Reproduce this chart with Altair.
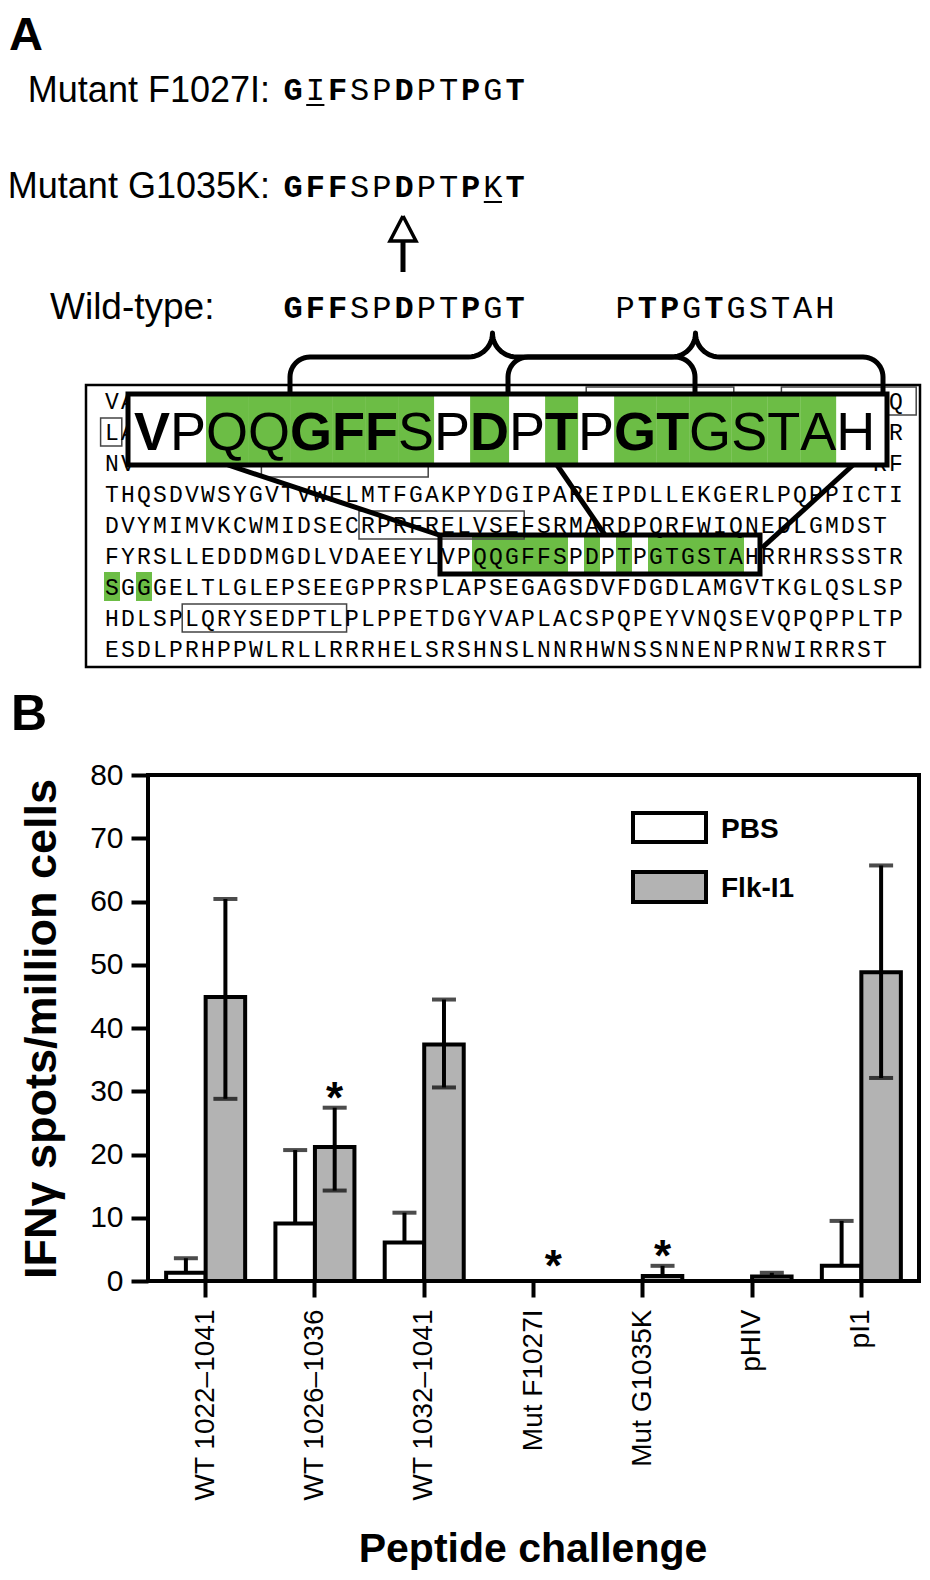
import math
import altair as alt
import pandas as pd

GREEN = "#6cbd45"
GRAY = "#b3b3b3"
SANS = "Liberation Sans"
MONO = "Liberation Mono"

# ---------------- Panel A data ----------------
mut1_label = "Mutant F1027I:"
mut1_seq = "GIFSPDPTPGT"
mut1_bold = "10100100101"
mut1_under = [1]
mut2_label = "Mutant G1035K:"
mut2_seq = "GFFSPDPTPKT"
mut2_bold = "11100100101"
mut2_under = [9]
wt_label = "Wild-type:"
wt_seq_a = "GFFSPDPTPGT"
wt_bold_a = "11100100101"
wt_seq_b = "PTPGTGSTAH"
wt_bold_b = "0110100000"

seq_rows = [
    "VAIKVLRENTSPKANKEILDEAYVMAGVGSPYVSRLLGICLTSTVQLVTQ",
    "LAPYGCLLDHVREHRGRLGSQDLLNWCVQIAKGMSYLEDVRLVHRDLAAR",
    "NVLVKSPNHVKITDFGLARLLDIDETEYHADGGKVPIKWMALESILRRRF",
    "THQSDVWSYGVTVWELMTFGAKPYDGIPAREIPDLLEKGERLPQPPICTI",
    "DVYMIMVKCWMIDSECRPRFRELVSEFSRMARDPQRFWIQNEDLGMDST",
    "FYRSLLEDDDMGDLVDAEEYLVPQQGFFSPDPTPGTGSTAHRRHRSSSTR",
    "SGGGELTLGLEPSEEGPPRSPLAPSEGAGSDVFDGDLAMGVTKGLQSLSP",
    "HDLSPLQRYSEDPTLPLPPETDGYVAPLACSPQPEYVNQSEVQPQPPLTP",
    "ESDLPRHPPWLRLLRRRHELSRSHNSLNNRHWNSSNNENPRNWIRRRST",
]
# rows whose middle lies under the enlarged box: only these cells show
covered_rows = [0, 1, 2]
visible_cells = [0, 1, 48, 49]
# (row, left cell, right cell) of the thin boxed motifs
thin_boxes = [(0, 30.2, 39.3), (0, 42.4, 50.7), (1, -0.15, 1.05), (2, 9.9, 20.2),
              (4, 16.0, 26.2), (7, 4.95, 15.1)]
hl_row, hl_start = 5, 21
zoom_seq = "VPQQGFFSPDPTPGTGSTAH"
zoom_bold = "10001110010101100000"
zoom_green = "00111111010101111110"
extra_green = [(6, 0), (6, 2)]

# ---------------- Panel B data ----------------
categories = ["WT 1022–1041", "WT 1026–1036", "WT 1032–1041", "Mut F1027I",
              "Mut G1035K", "pHIV", "pI1"]
groups = ["PBS", "Flk-I1"]
pbs_mean = [1.3, 9.1, 6.1, 0.0, 0.0, 0.0, 2.4]
pbs_err_hi = [3.6, 20.7, 10.8, None, None, None, 9.5]
flk_mean = [44.9, 21.2, 37.4, 0.0, 0.8, 0.7, 48.8]
flk_err_lo = [28.8, 14.3, 30.6, None, None, None, 32.1]
flk_err_hi = [60.4, 27.4, 44.5, None, 2.4, 1.3, 65.7]
star_cats = ["WT 1026–1036", "Mut F1027I", "Mut G1035K"]
star_vals = [30.5, 4.0, 5.6]
y_ticks = [0, 10, 20, 30, 40, 50, 60, 70, 80]

# ---------------- layout (page pixels) ----------------
W, H = 914, 1564
SEQ_X0, SEQ_DX = 104, 16
ROW_Y0, ROW_DY = 401, 31
UP_X0, UP_DX = 282, 22.2
ZOOM_X0, ZOOM_FS = 134, 54
ARIAL_W = {"V": .667, "P": .667, "Q": .778, "G": .778, "F": .611, "S": .667,
           "D": .722, "T": .611, "A": .667, "H": .722}


def sx():
    return alt.Scale(domain=[8, 8 + W], range=[0, W], nice=False, zero=False)


def sy():
    return alt.Scale(domain=[8, 8 + H], range=[0, H], nice=False, zero=False)


def ex(f="x"):
    return alt.X(f + ":Q", scale=sx(), axis=None)


def ey(f="y"):
    return alt.Y(f + ":Q", scale=sy(), axis=None)


def rects(df, **kw):
    return alt.Chart(pd.DataFrame(df)).mark_rect(**kw).encode(
        x=ex("x"), x2=alt.X2("x2"), y=ey("y"), y2=alt.Y2("y2"))


def rules(df, **kw):
    return alt.Chart(pd.DataFrame(df)).mark_rule(**kw).encode(
        x=ex("x"), x2=alt.X2("x2"), y=ey("y"), y2=alt.Y2("y2"))


def texts(df, **kw):
    kw.setdefault("baseline", "alphabetic")
    kw.setdefault("color", "black")
    return alt.Chart(pd.DataFrame(df)).mark_text(**kw).encode(
        x=ex("x"), y=ey("y"), text="t:N")


def paths(df, **kw):
    return alt.Chart(pd.DataFrame(df)).mark_line(**kw).encode(
        x=ex("x"), y=ey("y"), detail="id:N", order="k:Q")


def cell_x(c):
    return SEQ_X0 + c * SEQ_DX


def row_c(r):
    return ROW_Y0 + r * ROW_DY


# small sequence characters
small = [{"x": cell_x(c) + SEQ_DX / 2, "y": row_c(r) + 7.5, "t": ch}
         for r, row in enumerate(seq_rows) for c, ch in enumerate(row)
         if r not in covered_rows or c in visible_cells]

# upper sequences
upper = []
for seq, bold, x0, base in [(mut1_seq, mut1_bold, UP_X0, 100), (mut2_seq, mut2_bold, UP_X0, 197),
                            (wt_seq_a, wt_bold_a, UP_X0, 318), (wt_seq_b, wt_bold_b, 614, 318)]:
    for i, (ch, b) in enumerate(zip(seq, bold)):
        upper.append({"x": x0 + (i + 0.5) * UP_DX, "y": base, "t": ch, "b": b})
upper_n = [d for d in upper if d["b"] == "0"]
upper_b = [d for d in upper if d["b"] == "1"]

underl = []
for idxs, base in [(mut1_under, 100), (mut2_under, 197)]:
    for i in idxs:
        underl.append({"x": UP_X0 + i * UP_DX + 2, "x2": UP_X0 + (i + 1) * UP_DX - 2,
                       "y": base + 5, "y2": base + 5})

# highlights
greens = []
for i, g in enumerate(zoom_green):
    if g == "1":
        greens.append({"x": cell_x(hl_start + i), "x2": cell_x(hl_start + i + 1),
                       "y": row_c(hl_row) - 19, "y2": row_c(hl_row) + 16})
for r, c in extra_green:
    greens.append({"x": cell_x(c), "x2": cell_x(c + 1), "y": row_c(r) - 15, "y2": row_c(r) + 14})

thin = [{"x": cell_x(a) - 1, "x2": cell_x(b) + 1, "y": row_c(r) - 14, "y2": row_c(r) + 14}
        for r, a, b in thin_boxes]
thick_small = [{"x": cell_x(hl_start), "x2": cell_x(hl_start + len(zoom_seq)),
                "y": row_c(hl_row) - 21, "y2": row_c(hl_row) + 18}]

# zoomed box letters
zx = []
cur = ZOOM_X0
for ch in zoom_seq:
    zx.append(cur)
    cur += ARIAL_W[ch] * ZOOM_FS
big_n = [{"x": zx[i], "y": 450, "t": ch} for i, ch in enumerate(zoom_seq) if zoom_bold[i] == "0"]
big_b = [{"x": zx[i], "y": 450, "t": ch} for i, ch in enumerate(zoom_seq) if zoom_bold[i] == "1"]
big_g = [{"x": zx[i], "x2": zx[i] + ARIAL_W[ch] * ZOOM_FS, "y": 396, "y2": 463}
         for i, ch in enumerate(zoom_seq) if zoom_green[i] == "1"]
big_box = [{"x": 128, "x2": 887, "y": 394, "y2": 465}]

connectors = [{"x": 228, "y": 465, "x2": 442, "y2": 536},
              {"x": 557, "y": 465, "x2": 605, "y2": 535},
              {"x": 853, "y": 465, "x2": 762, "y2": 548}]


def brace(x0, x1, yb, yh, yt, r=20, n=12):
    R = yh - yt
    xp = (x0 + x1) / 2
    pts = [(x0, yb), (x0, yh + r)]
    for i in range(1, n + 1):
        th = math.pi + (math.pi / 2) * i / n
        pts.append((x0 + r + r * math.cos(th), yh + r + r * math.sin(th)))
    pts.append((xp - R, yh))
    for i in range(1, n + 1):
        th = math.pi / 2 - (math.pi / 2) * i / n
        pts.append((xp - R + R * math.cos(th), yt + R * math.sin(th)))
    right = [(2 * xp - x, y) for (x, y) in reversed(pts[:-1])]
    return pts + right


br = []
for bid, (a, b) in enumerate([(290, 695), (508, 883)]):
    for k, (x, y) in enumerate(brace(a, b, 395, 357, 333)):
        br.append({"id": bid, "k": k, "x": x, "y": y})

arrow_shaft = [{"x": 403, "x2": 403, "y": 241, "y2": 272}]
arrow_head = [{"id": 0, "k": k, "x": x, "y": y}
              for k, (x, y) in enumerate([(403, 216), (416, 241), (390, 241), (403, 216)])]

layerA = alt.layer(
    rects([{"x": 86, "x2": 920, "y": 385, "y2": 667}], fillOpacity=0, stroke="black", strokeWidth=2.5),
    rects(greens, color=GREEN),
    rects(thin, fillOpacity=0, stroke="#444444", strokeWidth=1.5),
    texts(small, font=MONO, fontSize=23, align="center"),
    rects(thick_small, fillOpacity=0, stroke="black", strokeWidth=5),
    rules(connectors, color="black", strokeWidth=5),
    paths(br, color="black", strokeWidth=5, strokeJoin="round"),
    rects(big_box, color="white"),
    rects(big_g, color=GREEN),
    texts(big_n, font=SANS, fontSize=ZOOM_FS, align="left"),
    texts(big_b, font=SANS, fontSize=ZOOM_FS, fontWeight="bold", align="left"),
    rects(big_box, fillOpacity=0, stroke="black", strokeWidth=5),
    texts([{"x": 9, "y": 50, "t": "A"}], font=SANS, fontSize=47, fontWeight="bold", align="left"),
    texts([{"x": 270, "y": 102, "t": mut1_label}, {"x": 270, "y": 198, "t": mut2_label}],
          font=SANS, fontSize=36, align="right"),
    texts([{"x": 50, "y": 319, "t": wt_label}], font=SANS, fontSize=37, align="left"),
    texts(upper_n, font=MONO, fontSize=32, align="center"),
    texts(upper_b, font=MONO, fontSize=32, fontWeight="bold", align="center"),
    rules(underl, color="black", strokeWidth=2),
    rules(arrow_shaft, color="black", strokeWidth=5),
    paths(arrow_head, color="black", strokeWidth=3.5, strokeJoin="miter"),
)

# ---------------- Panel B ----------------
bars_rows, err_rows, cap_rows = [], [], []
for i, c in enumerate(categories):
    bars_rows.append({"cat": c, "grp": "PBS", "v": pbs_mean[i]})
    bars_rows.append({"cat": c, "grp": "Flk-I1", "v": flk_mean[i]})
    if pbs_err_hi[i] is not None:
        err_rows.append({"cat": c, "grp": "PBS", "lo": pbs_mean[i], "hi": pbs_err_hi[i]})
        cap_rows.append({"cat": c, "grp": "PBS", "v": pbs_err_hi[i]})
    lo = flk_err_lo[i] if flk_err_lo[i] is not None else flk_mean[i]
    if flk_err_hi[i] is not None:
        err_rows.append({"cat": c, "grp": "Flk-I1", "lo": lo, "hi": flk_err_hi[i]})
        cap_rows.append({"cat": c, "grp": "Flk-I1", "v": flk_err_hi[i]})
    if flk_err_lo[i] is not None:
        cap_rows.append({"cat": c, "grp": "Flk-I1", "v": flk_err_lo[i]})
star_rows = [{"cat": c, "grp": "Flk-I1", "v": v} for c, v in zip(star_cats, star_vals)]

xs_b = alt.Scale(domain=categories, range=[143, 908], paddingInner=0, paddingOuter=0)
xo_b = alt.Scale(domain=groups, paddingInner=0, paddingOuter=0.383)
ys_b = alt.Scale(domain=[0, 80], range=[1273, 767], nice=False, zero=False)
x_axis = alt.Axis(orient="bottom", offset=-291, domain=False, grid=False, title=None,
                  tickSize=16, tickWidth=4, tickColor="black", labelAngle=-90,
                  labelFont=SANS, labelFontSize=28, labelColor="black", labelPadding=12,
                  labelLimit=500, labelOverlap=False)
y_axis = alt.Axis(orient="left", offset=-140, domain=False, grid=False, title=None,
                  values=y_ticks, tickSize=17, tickWidth=4, tickColor="black",
                  labelFont=SANS, labelFontSize=30, labelColor="black", labelPadding=8)


def benc(yfield, **extra):
    d = dict(x=alt.X("cat:N", scale=xs_b, sort=categories, axis=x_axis),
             xOffset=alt.XOffset("grp:N", scale=xo_b, sort=groups),
             y=alt.Y(yfield + ":Q", scale=ys_b, axis=y_axis))
    d.update(extra)
    return d


bars = alt.Chart(pd.DataFrame(bars_rows)).mark_bar(stroke="black", strokeWidth=4).encode(
    **benc("v", color=alt.Color("grp:N", scale=alt.Scale(domain=groups, range=["white", GRAY]),
                                legend=None)))
errs = alt.Chart(pd.DataFrame(err_rows)).mark_rule(color="black", strokeWidth=4).encode(
    **benc("lo", y2=alt.Y2("hi")))
caps = alt.Chart(pd.DataFrame(cap_rows)).mark_tick(
    orient="horizontal", size=24, thickness=4, color="black").encode(**benc("v"))
stars = alt.Chart(pd.DataFrame(star_rows)).mark_text(
    text="*", font=SANS, fontSize=44, fontWeight="bold", baseline="alphabetic", dy=25,
    color="black").encode(**benc("v"))
layerB = alt.layer(bars, errs, caps, stars)

# ---------------- frame, legend, titles ----------------
layerC = alt.layer(
    rects([{"x": 148, "x2": 919, "y": 775, "y2": 1281}], fillOpacity=0, stroke="black", strokeWidth=4),
    rects([{"x": 633, "x2": 706, "y": 813, "y2": 842}], color="white", stroke="black", strokeWidth=4),
    rects([{"x": 633, "x2": 706, "y": 872, "y2": 902}], color=GRAY, stroke="black", strokeWidth=4),
    texts([{"x": 721, "y": 838, "t": groups[0]}, {"x": 721, "y": 897, "t": groups[1]}],
          font=SANS, fontSize=28, fontWeight="bold", align="left"),
    texts([{"x": 11, "y": 730, "t": "B"}], font=SANS, fontSize=50, fontWeight="bold", align="left"),
    texts([{"x": 56, "y": 1029, "t": "IFNγ spots/million cells"}], font=SANS, fontSize=45,
          fontWeight="bold", align="center", angle=270),
    texts([{"x": 533, "y": 1562, "t": "Peptide challenge"}], font=SANS, fontSize=41,
          fontWeight="bold", align="center"),
)

chart = alt.layer(layerA, layerB, layerC).resolve_scale(
    x="independent", y="independent"
).properties(width=W, height=H, padding=0, autosize="none").configure_view(stroke=None)

chart.save("out.html", embed_options={"renderer": "svg", "actions": False})
